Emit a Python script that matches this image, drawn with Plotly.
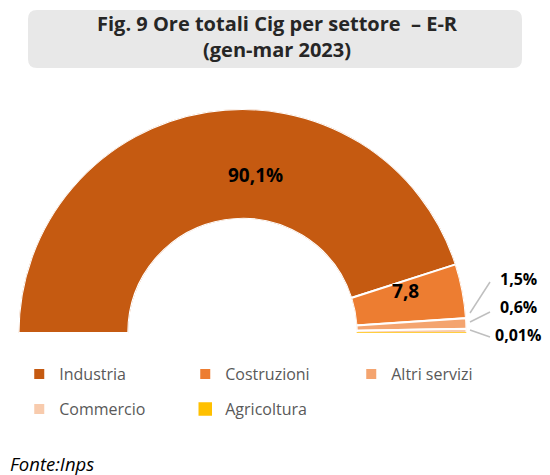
import plotly.graph_objects as go

categories = ["Industria", "Costruzioni", "Altri servizi", "Commercio", "Agricoltura"]
values = [90.1, 7.8, 1.5, 0.6, 0.01]
labels = ["90,1%", "7,8", "1,5%", "0,6%", "0,01%"]
colors = ["#C55A11", "#ED7D31", "#F4A46F", "#F8CBAD", "#FFC000"]
line_colors = ["white", "white", "white", "white", "#FFC000"]

W, H = 550, 475
total = sum(values)
HOLE = 0.51

def px(x, y):
    return x / W, 1 - y / H

fig = go.Figure()
cum = 0.0
centers = []
for i, (cat, v, c, lc) in enumerate(zip(categories, values, colors, line_colors)):
    span = 180.0 * v / total
    center = 180.0 * cum / total + span / 2
    centers.append(center)
    cum += v
    fig.add_trace(go.Barpolar(
        r=[1], theta=[center], width=[span], name=cat,
        marker=dict(color=c, line=dict(color=lc, width=2 if i < 4 else 1.5)),
        hoverinfo="name",
        legend="legend" if i < 3 else "legend2",
    ))

# inner labels for the two big slices (label placement nudged as in the reference)
inner_theta = [centers[0] + 13.7, centers[1] - 3.0]
inner_frac = [0.70, 0.75]  # fraction of the outer radius
inner_r = [(f - HOLE) / (1 - HOLE) for f in inner_frac]
fig.add_trace(go.Scatterpolar(
    r=inner_r, theta=inner_theta, text=labels[:2], mode="text",
    textfont=dict(family="Open Sans", size=19, color="#000000", weight="bold"),
    showlegend=False, hoverinfo="skip", cliponaxis=False,
))

dom_x = [18 / W, 467 / W]
dom_y = [1 - 333 / H, 1 - 109 / H]
leg_font = dict(family="Open Sans", size=16, color="#595959")
fig.update_layout(
    width=W, height=H,
    margin=dict(l=0, r=0, t=0, b=0),
    paper_bgcolor="white",
    polar=dict(
        domain=dict(x=dom_x, y=dom_y),
        sector=[0, 180],
        hole=HOLE,
        bgcolor="rgba(0,0,0,0)",
        radialaxis=dict(visible=False, range=[0, 1]),
        angularaxis=dict(visible=False, direction="clockwise", rotation=180),
        bargap=0,
    ),
    legend=dict(
        orientation="h", x=0.035, y=1 - 374 / H, xanchor="left", yanchor="middle",
        font=leg_font, entrywidth=121, entrywidthmode="pixels", itemclick=False,
        traceorder="normal",
    ),
    legend2=dict(
        orientation="h", x=0.035, y=1 - 409 / H, xanchor="left", yanchor="middle",
        font=leg_font, entrywidth=121, entrywidthmode="pixels", itemclick=False,
        traceorder="normal",
    ),
    showlegend=True,
)

# title box with rounded corners
x0, y0, x1, y1, rr = 28, 10, 522, 68, 9
def P(x, y):
    a, b = px(x, y)
    return f"{a:.5f},{b:.5f}"
path = (f"M {P(x0 + rr, y0)} L {P(x1 - rr, y0)} Q {P(x1, y0)} {P(x1, y0 + rr)} "
        f"L {P(x1, y1 - rr)} Q {P(x1, y1)} {P(x1 - rr, y1)} "
        f"L {P(x0 + rr, y1)} Q {P(x0, y1)} {P(x0, y1 - rr)} "
        f"L {P(x0, y0 + rr)} Q {P(x0, y0)} {P(x0 + rr, y0)} Z")
fig.add_shape(type="path", path=path, xref="paper", yref="paper",
              fillcolor="#E8E8E8", line=dict(width=0), layer="below")
fig.add_annotation(
    x=px(277, 0)[0], y=px(0, 37)[1], xref="paper", yref="paper",
    xanchor="center", yanchor="middle",
    text="Fig. 9 Ore totali Cig per settore  – E-R<br>(gen-mar 2023)", showarrow=False,
    font=dict(family="Open Sans", size=20, color="#262626", weight="bold"),
)

# outside labels with leader lines
lab_pos = [(518, 279), (518, 307), (518, 335)]
lines = [((470, 313), (490, 282)), ((470, 322), (490, 312)), ((470, 330), (490, 337))]
for t, (lx, ly), ((ax, ay), (bx, by)) in zip(labels[2:], lab_pos, lines):
    fig.add_annotation(x=px(lx, 0)[0], y=px(0, ly)[1], xref="paper", yref="paper",
                       xanchor="center", yanchor="middle",
                       text=t, showarrow=False,
                       font=dict(family="Open Sans", size=16, color="#000000", weight="bold"))
    fig.add_shape(type="line", xref="paper", yref="paper",
                  x0=px(ax, ay)[0], y0=px(ax, ay)[1], x1=px(bx, by)[0], y1=px(bx, by)[1],
                  line=dict(color="#BFBFBF", width=1.5))

fig.add_annotation(x=px(8, 0)[0], y=px(0, 463)[1], xref="paper", yref="paper",
                   xanchor="left", yanchor="middle", text="<i>Fonte:Inps</i>", showarrow=False,
                   font=dict(family="Open Sans", size=18.5, color="#000000"))

fig.write_html("out.html", post_script="document.body.style.margin='0';",
               config={"displayModeBar": False})
